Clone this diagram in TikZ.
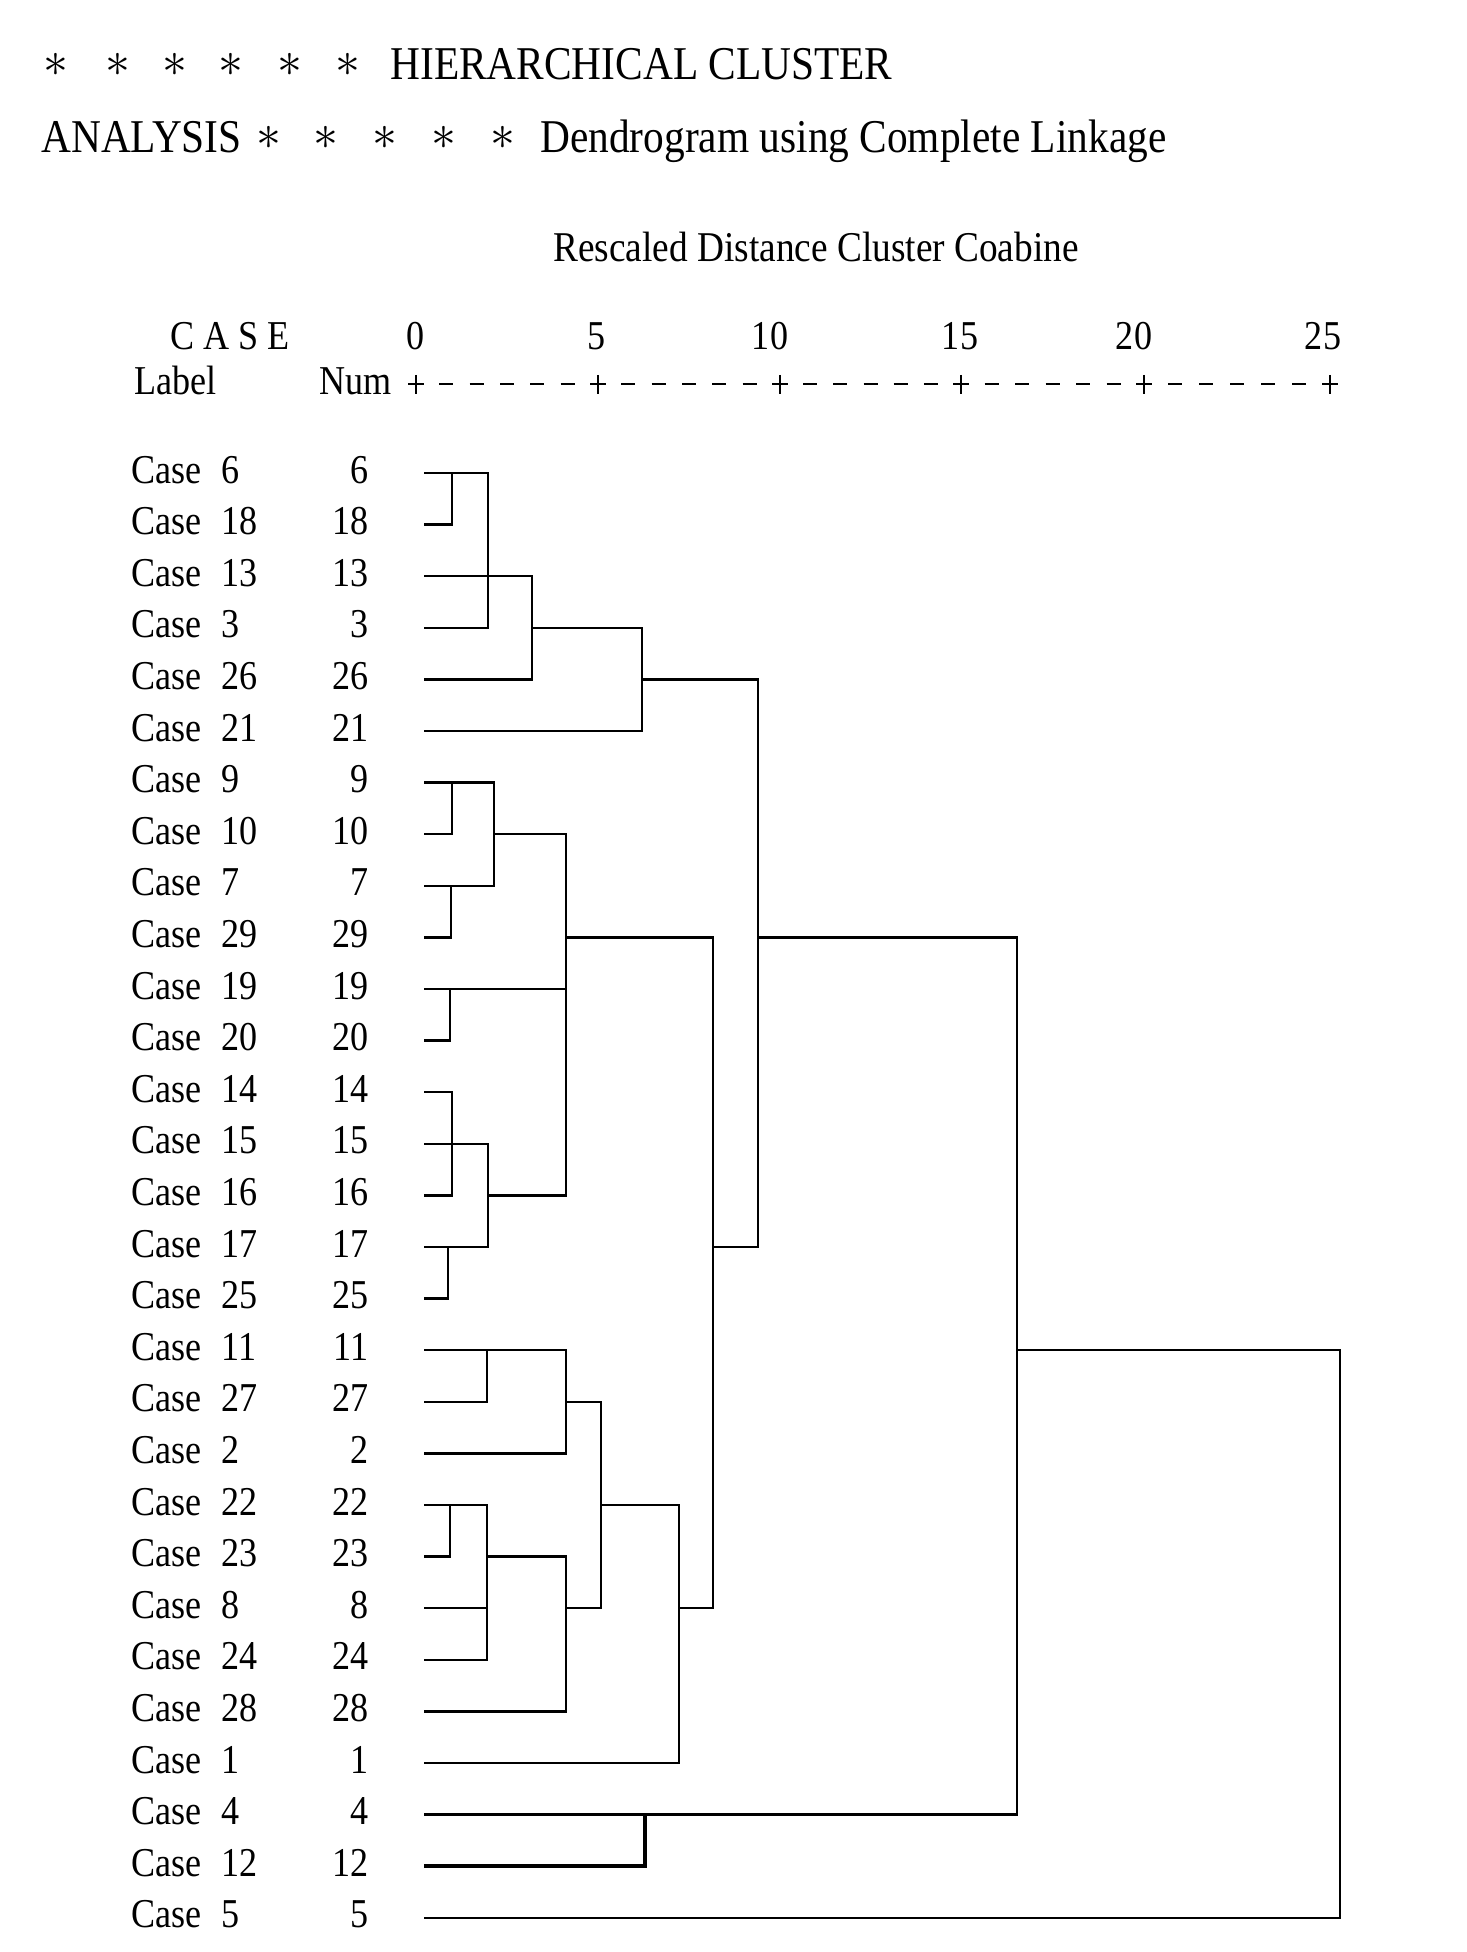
\documentclass[tikz,border=0pt]{standalone}
\usepackage{fontspec}
\setmainfont{Liberation Serif}[FakeStretch=0.88]
\begin{document}
\begin{tikzpicture}[x=0.5pt,y=-0.5pt,
  declare function={ry(\n)=473+51.6*(\n-1);},
  ln/.style={line width=1.2pt},
  axln/.style={line width=1.45pt},
  ln12/.style={line width=2pt},
  lbl/.style={inner sep=0pt, font=\fontsize{20.5}{24}\selectfont},
  ttl/.style={inner sep=0pt, font=\fontsize{23.5}{28}\selectfont},
  star/.style={inner sep=0pt, font=\fontsize{25}{28}\selectfont}]
\fill[white] (0,0) rectangle (1466,1952);
\useasboundingbox (0,0) rectangle (1466,1952);

% ---- title ----
\foreach \sx [count=\j] in {56,118,175,231,290,348}
  \node[star] (sa\j) at (\sx,65) {$\ast$};
\node[ttl, anchor=base west] (t1) at (390,80) {HIERARCHICAL CLUSTER};
\node[ttl, anchor=base west] (t2) at (41,153) {ANALYSIS};
\foreach \sx [count=\j] in {269,326,385,444,503}
  \node[star] (sb\j) at (\sx,138) {$\ast$};
\node[ttl, anchor=base west] (t3) at (540,153) {Dendrogram using Complete Linkage};

% ---- header ----
\node[lbl, anchor=base, font=\fontsize{21.2}{24}\selectfont] (resc) at (816,262) {Rescaled Distance Cluster Coabine};
\node[lbl, anchor=base west] (casehdr) at (170,350) {C A S E};
\node[lbl, anchor=base west] (labelhdr) at (134,395) {Label};
\node[lbl, anchor=base west] (numhdr) at (319,395) {Num};
\foreach \tx/\tl in {416/0,597/5,770/10,960/15,1134/20,1323/25}
  \node[lbl, anchor=base] (ax\tl) at (\tx,350) {\tl};
\foreach \tx in {416,598,780,961,1144,1330}{
  \draw[axln] (\tx,375) -- (\tx,394);
  \draw[axln] ({\tx-8},384) -- ({\tx+8},384);
}
\foreach \a/\b in {416/598,598/780,780/961,961/1144,1144/1330}
  \foreach \k in {1,...,5}{
    \pgfmathsetmacro\cx{\a+(\b-\a)*\k/6}
    \draw[axln] ({\cx-7},384) -- ({\cx+7},384);
  }

% ---- rows ----
\foreach \c [count=\i] in {6,18,13,3,26,21,9,10,7,29,19,20,14,15,16,17,25,11,27,2,22,23,8,24,28,1,4,12,5}{
  \pgfmathsetmacro\yy{473+51.6*(\i-1)}
  \node[lbl, anchor=base west] (case\i) at (131,{\yy+10}) {Case};
  \node[lbl, anchor=base west] (cn\i) at (221,{\yy+10}) {\c};
  \node[lbl, anchor=base east] (num\i) at (369,{\yy+10}) {\c};
  \coordinate (L\i) at (424,\yy);
}

% ---- cluster A ----
\draw[ln] (L1) -- ({488},{ry(1)}) -- ({488},{ry(4)}) -- (L4);
\draw[ln] ({452},{ry(1)}) -- ({452},{ry(2)}) -- (L2);
\draw[ln] (L3) -- ({532},{ry(3)}) -- ({532},{ry(5)}) -- (L5);
\draw[ln] ({532},{ry(4)}) -- ({642},{ry(4)}) -- ({642},{ry(6)}) -- (L6);
\draw[ln] ({642},{ry(5)}) -- ({758},{ry(5)}) -- ({758},{ry(16)}) -- ({713},{ry(16)});

% ---- cluster B ----
\draw[ln] (L7) -- ({494},{ry(7)}) -- ({494},{ry(9)}) -- (L9);
\draw[ln] ({452},{ry(7)}) -- ({452},{ry(8)}) -- (L8);
\draw[ln] ({451},{ry(9)}) -- ({451},{ry(10)}) -- (L10);
\draw[ln] ({494},{ry(8)}) -- ({566},{ry(8)}) -- ({566},{ry(15)}) -- ({488},{ry(15)});
\draw[ln] (L11) -- ({566},{ry(11)});
\draw[ln] ({450},{ry(11)}) -- ({450},{ry(12)}) -- (L12);
\draw[ln] ({566},{ry(10)}) -- ({713},{ry(10)}) -- ({713},{ry(23)}) -- ({679},{ry(23)});
\draw[ln] (L13) -- ({452},{ry(13)}) -- ({452},{ry(15)}) -- (L15);
\draw[ln] (L14) -- ({488},{ry(14)}) -- ({488},{ry(16)}) -- (L16);
\draw[ln] ({448},{ry(16)}) -- ({448},{ry(17)}) -- (L17);

% ---- cluster C ----
\draw[ln] (L18) -- ({566},{ry(18)}) -- ({566},{ry(20)}) -- (L20);
\draw[ln] ({487},{ry(18)}) -- ({487},{ry(19)}) -- (L19);
\draw[ln] ({566},{ry(19)}) -- ({601},{ry(19)}) -- ({601},{ry(23)}) -- ({566},{ry(23)});
\draw[ln] (L21) -- ({487},{ry(21)}) -- ({487},{ry(24)}) -- (L24);
\draw[ln] ({450},{ry(21)}) -- ({450},{ry(22)}) -- (L22);
\draw[ln] (L23) -- ({487},{ry(23)});
\draw[ln] ({487},{ry(22)}) -- ({566},{ry(22)}) -- ({566},{ry(25)}) -- (L25);
\draw[ln] ({601},{ry(21)}) -- ({679},{ry(21)}) -- ({679},{ry(26)}) -- (L26);

% ---- top joins ----
\draw[ln] ({758},{ry(10)}) -- ({1017},{ry(10)}) -- ({1017},{ry(27)}) -- (L27);
\draw[ln12] (L28) -- ({645},{ry(28)}) -- ({645},{ry(27)});
\draw[ln] ({1017},{ry(18)}) -- ({1340},{ry(18)}) -- ({1340},{ry(29)}) -- (L29);
\end{tikzpicture}
\end{document}
